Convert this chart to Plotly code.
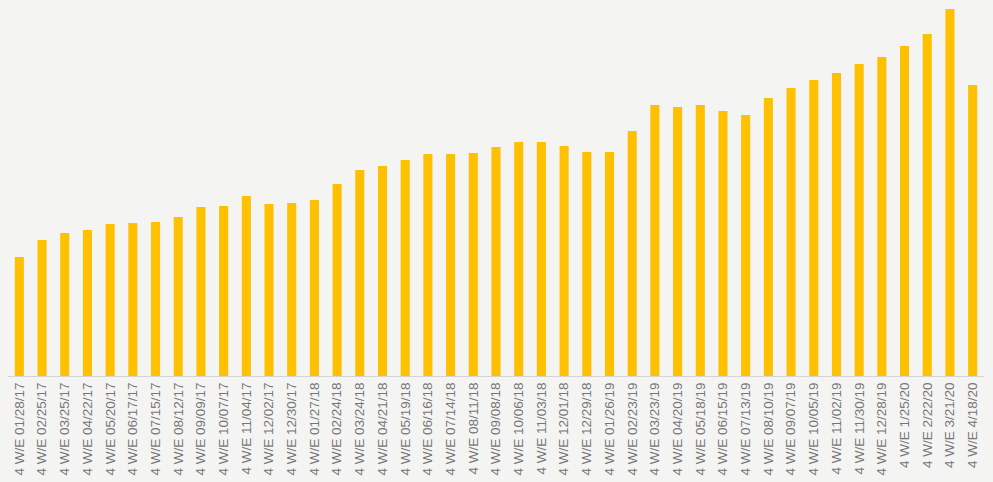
import plotly.graph_objects as go

periods = [
    "4 W/E 01/28/17", "4 W/E 02/25/17", "4 W/E 03/25/17", "4 W/E 04/22/17",
    "4 W/E 05/20/17", "4 W/E 06/17/17", "4 W/E 07/15/17", "4 W/E 08/12/17",
    "4 W/E 09/09/17", "4 W/E 10/07/17", "4 W/E 11/04/17", "4 W/E 12/02/17",
    "4 W/E 12/30/17", "4 W/E 01/27/18", "4 W/E 02/24/18", "4 W/E 03/24/18",
    "4 W/E 04/21/18", "4 W/E 05/19/18", "4 W/E 06/16/18", "4 W/E 07/14/18",
    "4 W/E 08/11/18", "4 W/E 09/08/18", "4 W/E 10/06/18", "4 W/E 11/03/18",
    "4 W/E 12/01/18", "4 W/E 12/29/18", "4 W/E 01/26/19", "4 W/E 02/23/19",
    "4 W/E 03/23/19", "4 W/E 04/20/19", "4 W/E 05/18/19", "4 W/E 06/15/19",
    "4 W/E 07/13/19", "4 W/E 08/10/19", "4 W/E 09/07/19", "4 W/E 10/05/19",
    "4 W/E 11/02/19", "4 W/E 11/30/19", "4 W/E 12/28/19", "4 W/E 1/25/20",
    "4 W/E 2/22/20", "4 W/E 3/21/20", "4 W/E 4/18/20",
]

sales = [
    119, 136, 143, 146, 152, 153, 154, 159, 169, 170, 180, 172, 173, 176,
    192, 206, 210, 216, 222, 222, 223, 229, 234, 234, 230, 224, 224, 245,
    271, 269, 271, 265, 261, 278, 288, 296, 303, 312, 319, 330, 342, 367,
    291,
]

fig = go.Figure(
    go.Bar(
        x=periods,
        y=sales,
        marker=dict(color="#FFC000", line=dict(width=0)),
        hoverinfo="x+y",
    )
)

fig.update_layout(
    width=993,
    height=482,
    margin=dict(l=8, r=9, t=0, b=106),
    paper_bgcolor="#f4f4f3",
    plot_bgcolor="#f4f4f3",
    bargap=0.6,
    showlegend=False,
    font=dict(family="Liberation Sans, Arial, sans-serif", color="#767676"),
)

fig.update_xaxes(
    type="category",
    tickangle=-90,
    tickfont=dict(size=13.5, color="#767676"),
    showline=True,
    linecolor="#d4d4d4",
    linewidth=1,
    showgrid=False,
    ticks="",
    ticklen=0,
)

fig.update_yaxes(
    range=[0, 376],
    visible=False,
    showgrid=False,
    zeroline=False,
)

fig.write_html("out.html")
